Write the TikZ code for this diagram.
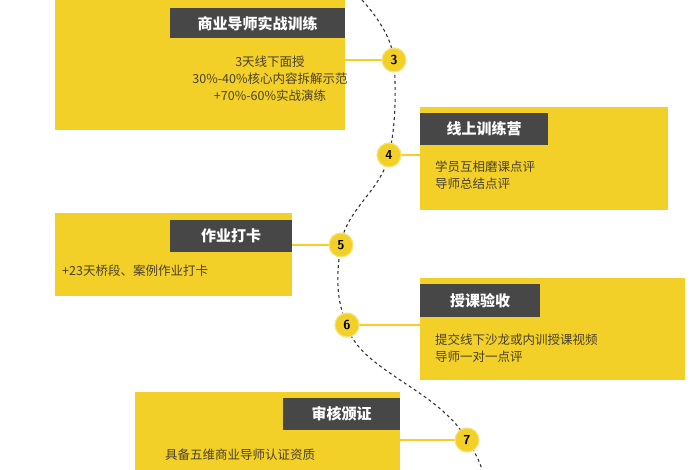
\documentclass[tikz,border=0pt]{standalone}
\usepackage{fontspec}
\newfontfamily\cjk{Noto Sans CJK SC}
\definecolor{yel}{HTML}{F2D027}
\definecolor{hdr}{HTML}{474747}
\definecolor{txt}{HTML}{4A4030}
\begin{document}
\begin{tikzpicture}[x=1pt,y=-1pt,
  ybox/.style={fill=yel,draw=none},
  hbox/.style={fill=hdr,text=white,font=\cjk\fontsize{15}{15}\selectfont\bfseries,inner sep=0pt,anchor=north west},
  body/.style={text=txt,font=\cjk\fontsize{12.5}{17}\selectfont,inner sep=0pt},
  num/.style={circle,fill=yel,draw=yel!60!white,line width=1.2pt,minimum size=24pt,inner sep=0pt,font=\sffamily\bfseries\fontsize{13}{13}\selectfont,text=black},
  link/.style={yel,line width=2.5pt},
  path/.style={dashed,line width=1.1pt,black!80}]
\useasboundingbox (0,0) rectangle (700,470);
% boxes
\fill[ybox] (55,0) rectangle (345,130);
\fill[ybox] (420,107) rectangle (668,210);
\fill[ybox] (55,213) rectangle (292,296);
\fill[ybox] (420,278) rectangle (685,380);
\fill[ybox] (135,392) rectangle (400,470);
% headers
\node[hbox,minimum width=175pt,minimum height=30pt] (h3) at (170,8) {商业导师实战训练};
\node[hbox,minimum width=128pt,minimum height=32pt] (h4) at (420,113) {线上训练营};
\node[hbox,minimum width=122pt,minimum height=32pt] (h5) at (170,220) {作业打卡};
\node[hbox,minimum width=120pt,minimum height=33pt] (h6) at (420,284) {授课验收};
\node[hbox,minimum width=117pt,minimum height=32pt] (h7) at (283,398) {审核颁证};
% texts
\node[body,align=center] (t3) at (270,79) {3天线下面授\\30\%-40\%核心内容拆解示范\\+70\%-60\%实战演练};
\node[body,align=left,anchor=west] (t4) at (435,175) {学员互相磨课点评\\导师总结点评};
\node[body,anchor=west] (t5) at (62,271) {+23天桥段、案例作业打卡};
\node[body,align=left,anchor=west] (t6) at (435,348) {提交线下沙龙或内训授课视频\\导师一对一点评};
\node[body,anchor=west] (t7) at (165,455) {具备五维商业导师认证资质};
% path
\coordinate (top) at (362,0);
\coordinate (bot) at (482,470);
\coordinate (c3) at (394,60);
\coordinate (c4) at (389,155);
\coordinate (c5) at (341,245);
\coordinate (c6) at (347,325);
\coordinate (c7) at (467,440);
\draw[path] (top) .. controls (380,20) and (392,40) .. (c3)
  .. controls (396,90) and (396,125) .. (c4)
  .. controls (382,190) and (345,210) .. (c5)
  .. controls (336,275) and (336,300) .. (c6)
  .. controls (358,370) and (440,390) .. (c7)
  .. controls (475,452) and (480,462) .. (bot);
% links
\draw[link] (345,60) -- (c3);
\draw[link] (c4) -- (420,155);
\draw[link] (292,245) -- (c5);
\draw[link] (c6) -- (420,325);
\draw[link] (400,440) -- (c7);
\node[num] (n3) at (c3) {3};
\node[num] (n4) at (c4) {4};
\node[num] (n5) at (c5) {5};
\node[num] (n6) at (c6) {6};
\node[num] (n7) at (c7) {7};
\end{tikzpicture}
\end{document}
